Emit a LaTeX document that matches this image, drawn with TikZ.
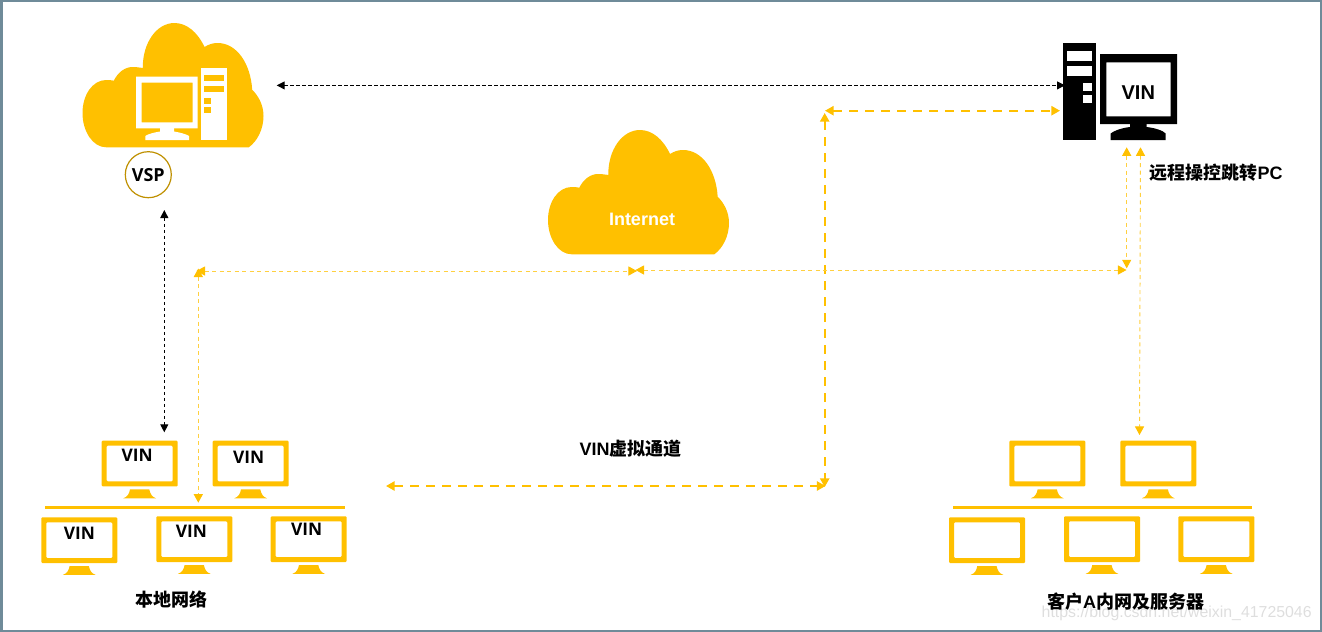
\documentclass[tikz,border=0pt]{standalone}
\usepackage{fontspec}
\setmainfont{Liberation Sans}
\newfontfamily\cjk{Noto Sans CJK SC}
\newfontfamily\vinfont{Open Sans}
\usetikzlibrary{arrows.meta}
\definecolor{gold}{HTML}{FFC000}
\definecolor{darkgold}{HTML}{BF9000}
\definecolor{edge}{HTML}{6F8B99}
\newcommand{\cn}[1]{{\cjk\bfseries #1}}
\tikzset{
  cloudicon/.pic = {
    \fill[gold] (23.7,124.3) -- (166.3,124.3) .. controls (175,118) and (181,106) .. (181,93)
      .. controls (181,82) and (176,73) .. (169.7,66.7)
      .. controls (168,40) and (154,20) .. (135,20)
      .. controls (130,20) and (126,21.5) .. (122,24)
      .. controls (115,9) and (104,0) .. (92,0)
      .. controls (74,0) and (60,20) .. (60.3,45)
      .. controls (57,44.5) and (54,44) .. (50,44)
      .. controls (42,44) and (35,50) .. (31.3,57.7)
      .. controls (29,57) and (26,57) .. (23.7,57)
      .. controls (10,57) and (0,72) .. (0,90)
      .. controls (0,108) and (10,124.3) .. (23.7,124.3) -- cycle;
  },
  screen/.pic = {
    \fill[gold, rounded corners=0.75pt, even odd rule] (0,0) rectangle (76,45.7) (5,5) rectangle (71,40.7);
    \fill[gold] (28.3,48.7) -- (47.6,48.7) .. controls (48.5,53) and (50,56) .. (54.3,57.6)
      -- (21.6,57.6) .. controls (26,56) and (27.5,53) .. (28.3,48.7) -- cycle;
  }
}
\begin{document}
\begin{tikzpicture}[x=0.75pt, y=-0.75pt,
    vin/.style = {font=\vinfont\bfseries\fontsize{13}{15}\selectfont, inner sep=0pt},
    label/.style = {font=\bfseries\fontsize{13.5}{16}\selectfont, inner sep=0pt},
    bus/.style = {draw=gold, line width=1.9pt},
    blackline/.style = {black, line width=0.75pt, dash pattern=on 2.6pt off 1.9pt, {Triangle[length=6pt,width=6pt]}-{Triangle[length=6pt,width=6pt]}},
    thickline/.style = {gold, line width=1.5pt, dash pattern=on 6.4pt off 5.6pt, {Triangle[length=6.4pt,width=6.8pt]}-{Triangle[length=6.4pt,width=6.8pt]}},
    thinline/.style = {gold!75, line width=0.7pt, dash pattern=on 3pt off 2.6pt, {Triangle[length=6.4pt,width=6.8pt,color=gold]}-{Triangle[length=6.4pt,width=6.8pt,color=gold]}}]
    \useasboundingbox (0,0) rectangle (1322,632);
    \draw[edge, line width=1.5pt] (1,1) rectangle (1321,631);
    \draw[edge, line width=2.25pt] (1.5,0) -- (1.5,632);

    \pic at (82.5,23) {cloudicon};
    \pic at (548,130) {cloudicon};
    \node[font=\bfseries\fontsize{13.5}{16}\selectfont, text=white, inner sep=0pt] (internet) at (642,219) {Internet};

    % computer in the cloud
    \fill[white, even odd rule] (136,76.7) rectangle (197.7,128.3) (141.7,82.7) rectangle (192.7,122.3);
    \fill[white] (160,128) -- (174,128) -- (174,131.5) .. controls (180,132.5) and (186,134) .. (189,136) -- (189,140) -- (145.3,140) -- (145.3,136) .. controls (148,134) and (154,132.5) .. (160,131.5) -- cycle;
    \fill[white] (201,68.3) rectangle (226.7,139.7);
    \fill[gold] (204.3,74.7) rectangle (224,81.3);
    \fill[gold] (204.3,85.7) rectangle (224,92.3);
    \fill[gold] (204.3,98.3) rectangle (211,104);
    \fill[gold] (204.3,107) rectangle (211,112.7);
    \node[draw=darkgold, line width=0.9pt, circle, minimum size=34.5pt, inner sep=0pt, font=\vinfont\bfseries\fontsize{13.5}{16}\selectfont] (vsp) at (148.3,174.7) {VSP};

    % jump PC
    \fill[black] (1063.3,42.7) rectangle (1095.7,140);
    \fill[white] (1067,51.3) rectangle (1092,60.7);
    \fill[white] (1067,65.7) rectangle (1092,75.7);
    \fill[white] (1083.3,83.3) rectangle (1092,91);
    \fill[white] (1083.3,95.3) rectangle (1092,102.7);
    \fill[black, even odd rule] (1100,54) rectangle (1177,124) (1106.3,62.3) rectangle (1170.7,116.3);
    \fill[black] (1130,124) -- (1146.7,124) -- (1146.7,127) .. controls (1155,128) and (1163,130.5) .. (1165.7,133.5) -- (1165.7,140) -- (1110.7,140) -- (1110.7,133.5) .. controls (1114,130.5) and (1122,128) .. (1130,127) -- cycle;
    \node[font=\bfseries\fontsize{15}{18}\selectfont, inner sep=0pt] (jumpvin) at (1138.3,92.7) {VIN};
    \node[label] (jumppc) at (1216.2,173) {\cn{远程操控跳转}PC};

    % local network
    \pic at (101.7,440.7) {screen};
    \pic at (212.7,440.7) {screen};
    \pic at (41.3,517.3) {screen};
    \pic at (156.3,516.3) {screen};
    \pic at (270.7,516.3) {screen};
    \node[vin] (vin1) at (137.2,455) {VIN};
    \node[vin] (vin2) at (248.7,457.3) {VIN};
    \node[vin] (vin3) at (79.3,533.3) {VIN};
    \node[vin] (vin4) at (191.3,531) {VIN};
    \node[vin] (vin5) at (306.7,529.3) {VIN};
    \coordinate (busa) at (45,507.3);
    \coordinate (busb) at (345,507.3);
    \draw[bus] (busa) -- (busb);
    \node[label] (localnet) at (171.5,600) {\cn{本地网络}};

    % customer network
    \node[text=black!13, inner sep=0pt, font=\fontsize{11.9}{14}\selectfont] (mark) at (1176.7,613.5) {https://blog.csdn.net/weixin\_41725046};
    \pic at (1009.3,440.7) {screen};
    \pic at (1120.3,440.7) {screen};
    \pic at (949,517.3) {screen};
    \pic at (1064,516.3) {screen};
    \pic at (1178.3,516.3) {screen};
    \coordinate (busc) at (953,507.3);
    \coordinate (busd) at (1252,507.3);
    \draw[bus] (busc) -- (busd);
    \node[label] (custnet) at (1125.5,601.5) {\cn{客户}A\cn{内网及服务器}};

    \node[label] (tunnel) at (630.5,449) {VIN\cn{虚拟通道}};

    % named ends of the connectors
    \coordinate (c1) at (276.7,85.4);
    \coordinate (c2) at (1065,85.4);
    \coordinate (c3) at (164.3,210);
    \coordinate (c4) at (164.3,432.3);
    \coordinate (y1) at (825,110.7);
    \coordinate (y2) at (1060,110.7);
    \coordinate (y3) at (824.7,113);
    \coordinate (y4) at (824.7,487);
    \coordinate (y5) at (386,486);
    \coordinate (y6) at (825.5,486);
    \coordinate (t1) at (196.5,271);
    \coordinate (t2) at (637,271);
    \coordinate (t3) at (198.3,268.5);
    \coordinate (t4) at (198.3,502.7);
    \coordinate (t5) at (635.5,270);
    \coordinate (t6) at (1126.5,270);
    \coordinate (t7) at (1126.7,147.3);
    \coordinate (t8) at (1126.7,268.3);
    \coordinate (t9) at (1140.5,147.3);
    \coordinate (t10) at (1139.5,435);

    \draw[blackline] (c1) -- (c2);
    \draw[blackline] (c3) -- (c4);
    \draw[thickline] (y1) -- (y2);
    \draw[thickline] (y3) -- (y4);
    \draw[thickline] (y5) -- (y6);
    \draw[thinline] (t1) -- (t2);
    \draw[thinline] (t3) -- (t4);
    \draw[thinline] (t5) -- (t6);
    \draw[thinline] (t7) -- (t8);
    \draw[thinline] (t9) -- (t10);
\end{tikzpicture}
\end{document}
